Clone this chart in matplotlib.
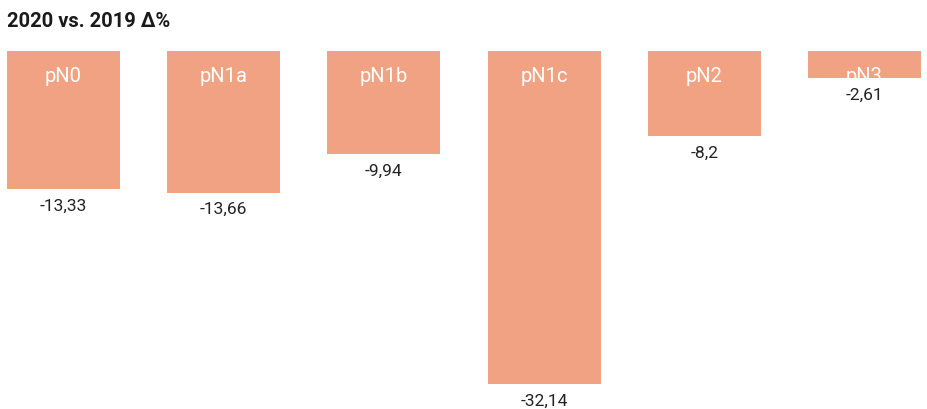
import matplotlib
matplotlib.use("Agg")
import matplotlib.pyplot as plt

categories = ["pN0", "pN1a", "pN1b", "pN1c", "pN2", "pN3"]
values = [-13.33, -13.66, -9.94, -32.14, -8.2, -2.61]
value_labels = ["-13,33", "-13,66", "-9,94", "-32,14", "-8,2", "-2,61"]

plt.rcParams['font.family'] = ['Roboto', 'DejaVu Sans']

W, H = 928, 409
fig = plt.figure(figsize=(W / 100, H / 100), dpi=100)
top_px, bottom_px = 51, 384
ax = fig.add_axes([7 / W, (H - bottom_px) / H, (921 - 7) / W, (bottom_px - top_px) / H])

bw = 0.705
x = list(range(len(categories)))
ax.bar(x, values, width=bw, color="#F0A283", align="center")
ax.set_xlim(-bw / 2, len(categories) - 1 + bw / 2)
ax.set_ylim(min(values), 0)
ax.axis("off")

for xi, cat, v, lab in zip(x, categories, values, value_labels):
    ax.annotate(cat, (xi, 0), xytext=(0, -22), textcoords="offset points",
                ha="center", va="baseline", color="white", fontsize=14.5,
                annotation_clip=False)
    ax.annotate(lab, (xi, v), xytext=(0, -15.5), textcoords="offset points",
                ha="center", va="baseline", color="#222222", fontsize=12.5,
                annotation_clip=False)

fig.text(7 / W, 1 - 27 / H, "2020 vs. 2019 Δ%", ha="left", va="baseline",
         fontsize=14.5, fontweight="bold", color="#1a1a1a")

fig.savefig("out.png", dpi=100)
